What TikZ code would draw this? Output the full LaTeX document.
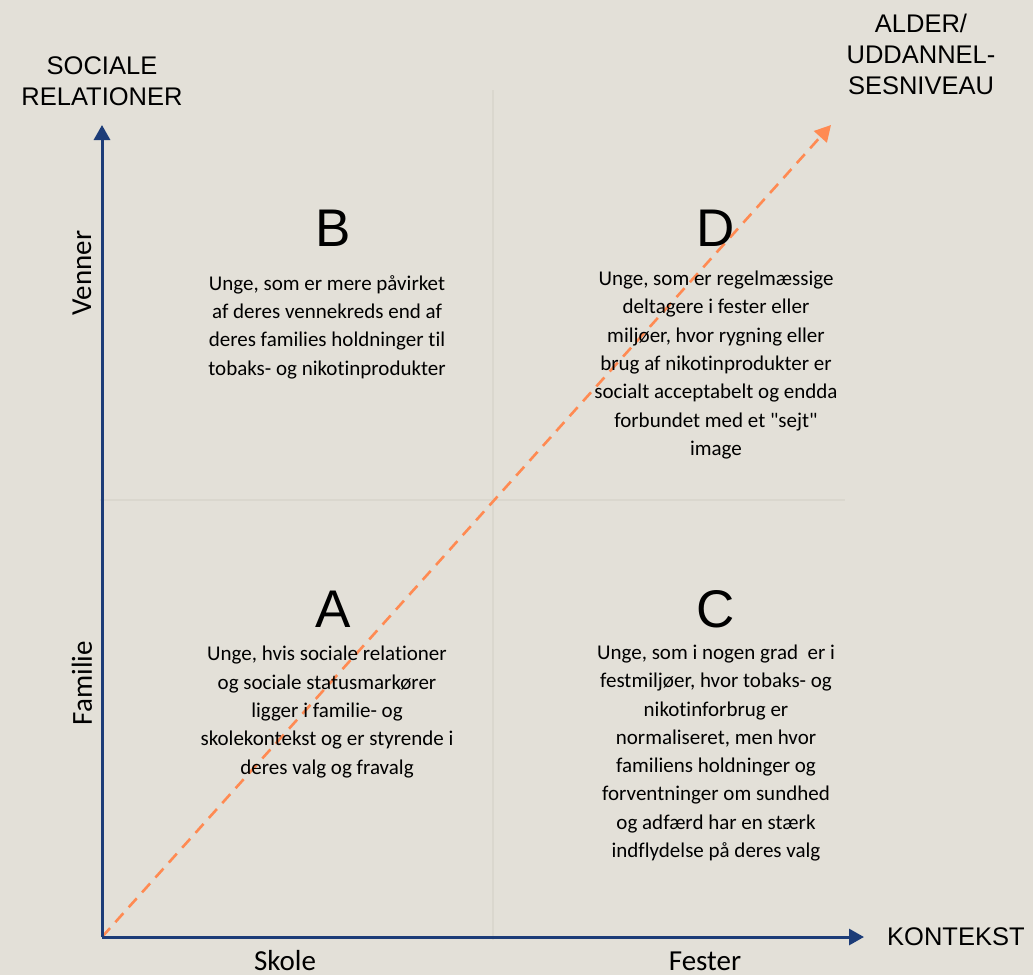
\documentclass[tikz,border=0pt]{standalone}
\usepackage{fontspec}
\setmainfont{Carlito}[Ligatures={TeXOff,NoCommon}]
\newfontfamily\arialfont{Liberation Sans}
\usetikzlibrary{arrows.meta}
\definecolor{bgc}{RGB}{227,224,216}
\definecolor{gridc}{RGB}{218,215,206}
\definecolor{axisc}{RGB}{28,60,120}
\definecolor{orangec}{RGB}{255,138,82}
\tikzset{
  axislbl/.style={font=\arialfont\fontsize{25.5}{31}\selectfont, align=center, inner sep=0pt, text=black},
  sidelbl/.style={font=\fontsize{29}{32}\selectfont, inner sep=0pt, text=black},
  bigletter/.style={font=\arialfont\fontsize{53}{60}\selectfont, inner sep=0pt, text=black},
  bodytxt/.style={font=\fontsize{21}{28.3}\selectfont, align=center, inner sep=0pt, text=black},
  axisline/.style={draw=axisc, line width=3pt, -{Triangle[width=16pt,length=15pt]}},
  trendline/.style={draw=orangec, line width=2.6pt, dash pattern=on 12pt off 8pt, -{Triangle[width=17pt,length=16pt]}},
  gridline/.style={draw=gridc, line width=1.5pt}
}
\begin{document}
\begin{tikzpicture}[x=1pt,y=-1pt]
\fill[bgc] (0,0) rectangle (1033,975);
\useasboundingbox (0,0) rectangle (1033,975);
% grid
\coordinate (gl) at (100,500);
\coordinate (gr) at (845,500);
\coordinate (gt) at (493,90);
\coordinate (gb) at (493,940);
\draw[gridline] (gl) -- (gr);
\draw[gridline] (gt) -- (gb);
% axes
\coordinate (O) at (102,937);
\coordinate (Ytip) at (102,125);
\coordinate (Xtip) at (864,937);
\coordinate (Dtip) at (831,125);
\draw[trendline] (O) -- (Dtip);
\draw[axisline] (O) -- (Ytip);
\draw[axisline] (O) -- (Xtip);
% axis labels
\node[axislbl] (ylbl) at (102,81) {SOCIALE\\RELATIONER};
\node[axislbl] (dlbl) at (921,54) {ALDER/\\UDDANNEL-\\SESNIVEAU};
\node[axislbl, anchor=west] (xlbl) at (887,937) {KONTEKST};
\node[sidelbl] (skole) at (285,961) {Skole};
\node[sidelbl] (fester) at (705,961) {Fester};
\node[sidelbl, rotate=90] (venner) at (82,273) {Venner};
\node[sidelbl, rotate=90] (familie) at (82,683) {Familie};
% quadrant letters
\node[bigletter] (B) at (333,228) {B};
\node[bigletter] (D) at (716,228) {D};
\node[bigletter] (A) at (333,609) {A};
\node[bigletter] (C) at (716,609) {C};
% quadrant texts
\node[bodytxt] (Btxt) at (327,327) {Unge, som er mere påvirket\\af deres vennekreds end af\\deres families holdninger til\\tobaks- og nikotinprodukter};
\node[bodytxt] (Dtxt) at (716,365) {Unge, som er regelmæssige\\deltagere i fester eller\\miljøer, hvor rygning eller\\brug af nikotinprodukter er\\socialt acceptabelt og endda\\forbundet med et "sejt"\\image};
\node[bodytxt] (Atxt) at (327,712) {Unge, hvis sociale relationer\\og sociale statusmarkører\\ligger i familie- og\\skolekontekst og er styrende i\\deres valg og fravalg};
\node[bodytxt] (Ctxt) at (716,753) {Unge, som i nogen grad\ \ er i\\festmiljøer, hvor tobaks- og\\nikotinforbrug er\\normaliseret, men hvor\\familiens holdninger og\\forventninger om sundhed\\og adfærd har en stærk\\indflydelse på deres valg};
\end{tikzpicture}
\end{document}
